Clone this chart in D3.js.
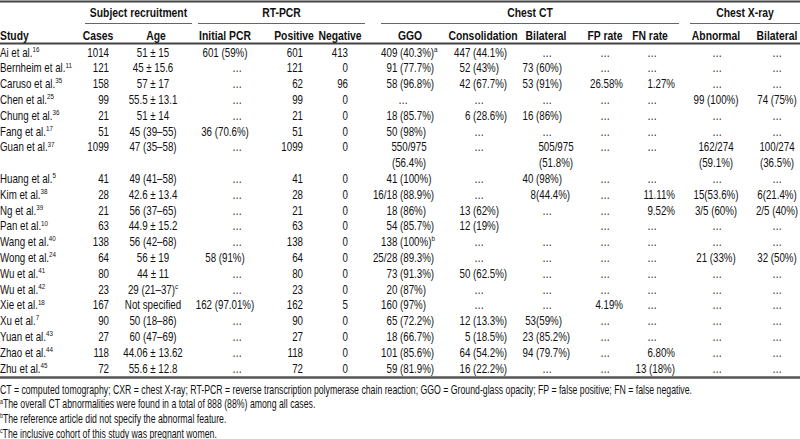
<!DOCTYPE html>
<html><head><meta charset="utf-8">
<script src="https://cdn.jsdelivr.net/npm/d3@7"></script>
<style>
html,body{margin:0;padding:0;background:#fff;}
svg text{font-family:"Liberation Sans","Arimo",Arial,sans-serif;fill:#111;font-size:12.5px;}
</style></head><body><svg id="c" width="800" height="439"></svg>
<script>
// ---------- data ----------
const studies = ["Ai et al.","Bernheim et al.","Caruso et al.","Chen et al.","Chung et al.","Fang et al.","Guan et al.","Huang et al.","Kim et al.","Ng et al.","Pan et al.","Wang et al.","Wong et al.","Wu et al.","Wu et al.","Xie et al.","Xu et al.","Yuan et al.","Zhao et al.","Zhu et al."];
const refs = ["16","11","35","25","36","17","37","5","38","39","10","40","24","41","42","18","7","43","44","45"];
const cases = [1014,121,158,99,21,51,1099,41,28,21,63,138,64,80,23,167,90,27,118,72];
const ages = ["51 ± 15","45 ± 15.6","57 ± 17","55.5 ± 13.1","51 ± 14","45 (39–55)","47 (35–58)","49 (41–58)","42.6 ± 13.4","56 (37–65)","44.9 ± 15.2","56 (42–68)","56 ± 19","44 ± 11","29 (21–37)","Not specified","50 (18–86)","60 (47–69)","44.06 ± 13.62","55.6 ± 12.8"];
const ageNotes = ["","","","","","","","","","","","","","","c","","","","",""];
const initialPCR = ["601 (59%)","…","…","…","…","36 (70.6%)","…","…","…","…","…","…","58 (91%)","…","…","162 (97.01%)","…","…","…","…"];
const positive = [601,121,62,99,21,51,1099,41,28,21,63,138,64,80,23,162,90,27,118,72];
const negative = [413,0,96,0,0,0,0,0,0,0,0,0,0,0,0,5,0,0,0,0];
const ggo = ["409 (40.3%)","91 (77.7%)","58 (96.8%)","…","18 (85.7%)","50 (98%)","550/975\n(56.4%)","41 (100%)","16/18 (88.9%)","18 (86%)","54 (85.7%)","138 (100%)","25/28 (89.3%)","73 (91.3%)","20 (87%)","160 (97%)","65 (72.2%)","18 (66.7%)","101 (85.6%)","59 (81.9%)"];
const ggoNotes = ["a","","","","","","","","","","","b","","","","","","","",""];
const consolidation = ["447 (44.1%)","52 (43%)","42 (67.7%)","…","6 (28.6%)","…","…","…","…","13 (62%)","12 (19%)","…","…","50 (62.5%)","…","…","12 (13.3%)","5 (18.5%)","64 (54.2%)","16 (22.2%)"];
const bilateralCT = ["…","73 (60%)","53 (91%)","…","16 (86%)","…","505/975\n(51.8%)","40 (98%)","8(44.4%)","…","","…","…","…","…","…","53(59%)","23 (85.2%)","94 (79.7%)","…"];
const fpRate = ["…","…","26.58%","…","…","…","…","…","…","…","…","…","…","…","…","4.19%","…","…","…","…"];
const fnRate = ["…","…","1.27%","…","…","…","…","…","11.11%","9.52%","…","…","…","…","…","…","…","…","6.80%","13 (18%)"];
const abnormalCXR = ["…","…","…","99 (100%)","…","…","162/274\n(59.1%)","…","15(53.6%)","3/5 (60%)","…","…","21 (33%)","…","…","…","…","…","…","…"];
const bilateralCXR = ["…","…","…","74 (75%)","…","…","100/274\n(36.5%)","…","6(21.4%)","2/5 (40%)","…","…","32 (50%)","…","…","…","…","…","…","…"];
const groupHeaders = ["Subject recruitment","RT-PCR","Chest CT","Chest X-ray"];
const columnHeaders = ["Study","Cases","Age","Initial PCR","Positive","Negative","GGO","Consolidation","Bilateral","FP rate","FN rate","Abnormal","Bilateral"];
const footnotes = [
  ["","CT = computed tomography; CXR = chest X-ray; RT-PCR = reverse transcription polymerase chain reaction; GGO = Ground-glass opacity; FP = false positive; FN = false negative."],
  ["a","The overall CT abnormalities were found in a total of 888 (88%) among all cases."],
  ["b","The reference article did not specify the abnormal feature."],
  ["c","The inclusive cohort of this study was pregnant women."]
];

// ---------- layout (not data) ----------
const SX = 0.78;      // body condensed factor
const HSX = 0.83;     // header condensed factor
const colLayout = {
  "Study":        {x:0,   mode:"start", hx:0,   ha:"start"},
  "Cases":        {x:109, mode:"end",   hx:98,  ha:"middle"},
  "Age":          {x:153, mode:"middle",hx:156, ha:"middle"},
  "Initial PCR":  {x:225, mode:"middle",ex:237, hx:225, ha:"middle"},
  "Positive":     {x:303, mode:"end",   hx:294, ha:"middle"},
  "Negative":     {x:348, mode:"end",   hx:340, ha:"middle"},
  "GGO":          {x:400, mode:"paren", ex:403, mx:409, hx:410, ha:"middle"},
  "Consolidation":{x:473, mode:"paren", ex:479, mx:479, hx:483, ha:"middle"},
  "BilateralCT":  {x:536, mode:"paren", ex:547, mx:556, hx:546, ha:"middle"},
  "FP rate":      {x:623, mode:"end",   ex:605, hx:605, ha:"middle"},
  "FN rate":      {x:675, mode:"end",   ex:652, hx:650, ha:"middle"},
  "Abnormal":     {x:716, mode:"middle",ex:717, hx:716, ha:"middle"},
  "BilateralCXR": {x:777, mode:"middle",ex:777, hx:777, ha:"middle"}
};
const groupSpans = [[85,192],[198,365],[381,679],[690,800]];

const svg = d3.select("#c");
const W = 800;

function T(parent,x,y,anchor,sx){
  return parent.append("text")
    .attr("transform",`translate(${x},${y}) scale(${sx||SX},1)`)
    .attr("text-anchor",anchor||"start");
}

// rows -> lines
const nLinesPerRow = studies.map((s,i)=>{
  const cells=[ggo[i],bilateralCT[i],abnormalCXR[i],bilateralCXR[i]];
  return d3.max(cells,c=>String(c).split("\n").length);
});
const lineStart = [];
nLinesPerRow.reduce((acc,n,i)=>{lineStart[i]=acc;return acc+n;},0);
const totalLines = d3.sum(nLinesPerRow);
const yLine = d3.scaleLinear().domain([0,totalLines-1]).range([52,368]);
const pitch = yLine(1)-yLine(0);
const BASE = 4.5;

// rules
const rule=(y,w,c)=>svg.append("line").attr("x1",0).attr("x2",W).attr("y1",y).attr("y2",y).attr("stroke",c).attr("stroke-width",w);
rule(1.5,2,"#444");
rule(43.5,1.8,"#444");
rule(377.5,2.4,"#555");

// group headers
const gh = svg.append("g");
groupHeaders.forEach((t,i)=>{
  const [a,b]=groupSpans[i];
  T(gh,(a+b)/2,12+BASE,"middle",HSX).attr("font-weight","bold").text(t);
  gh.append("line").attr("x1",a).attr("x2",b).attr("y1",23.5).attr("y2",23.5).attr("stroke","#666").attr("stroke-width",1.1);
});

// column headers
const colKeys = ["Study","Cases","Age","Initial PCR","Positive","Negative","GGO","Consolidation","BilateralCT","FP rate","FN rate","Abnormal","BilateralCXR"];
columnHeaders.forEach((t,i)=>{
  const L=colLayout[colKeys[i]];
  T(svg,L.hx,35.5+BASE,L.ha,HSX).attr("font-weight","bold").text(t);
});

const body = svg.append("g");
function addSup(txt,sup){ if(sup){ txt.append("tspan").attr("dy",-4.8).attr("font-size","8px").text(sup);} }

function drawCell(key,val,row,sup){
  const L = colLayout[key];
  const s = String(val);
  if(s==="") return;
  const y0 = yLine(lineStart[row])+BASE;
  if(s==="…"){
    T(body,L.ex!==undefined?L.ex:L.x,y0,"middle").attr("fill","#555").text("…");
    return;
  }
  const parts = s.split("\n");
  if(parts.length>1){
    parts.forEach((p,k)=>{
      T(body,L.mx!==undefined?L.mx:L.x,y0+k*pitch,"middle").text(p);
    });
    return;
  }
  if(L.mode==="paren"){
    const idx = s.indexOf("(");
    const left = s.slice(0,idx), right = s.slice(idx);
    const gap = left.endsWith(" ")?2.7:0;
    T(body,L.x-gap,y0,"end").text(left.trim());
    const t = T(body,L.x,y0,"start");
    t.append("tspan").text(right);
    addSup(t,sup);
    return;
  }
  const t = T(body,L.x,y0,L.mode);
  t.append("tspan").text(s);
  addSup(t,sup);
}

studies.forEach((s,i)=>{
  drawCell("Study",s,i,refs[i]);
  drawCell("Cases",cases[i],i);
  drawCell("Age",ages[i],i,ageNotes[i]);
  drawCell("Initial PCR",initialPCR[i],i);
  drawCell("Positive",positive[i],i);
  drawCell("Negative",negative[i],i);
  drawCell("GGO",ggo[i],i,ggoNotes[i]);
  drawCell("Consolidation",consolidation[i],i);
  drawCell("BilateralCT",bilateralCT[i],i);
  drawCell("FP rate",fpRate[i],i);
  drawCell("FN rate",fnRate[i],i);
  drawCell("Abnormal",abnormalCXR[i],i);
  drawCell("BilateralCXR",bilateralCXR[i],i);
});

// footnotes: fit first line to its width in the reference
const fy = d3.scaleLinear().domain([0,3]).range([389,433]);
const FOOT_W = 693;
const fg = svg.append("g");
const fnodes = footnotes.map(([sup,txt],i)=>{
  const t = T(fg,0,fy(i)+BASE,"start",1).attr("font-size","12px");
  if(sup){ t.append("tspan").attr("font-size","7.5px").attr("dy",-4.5).text(sup); t.append("tspan").attr("dy",4.5).text(txt);} 
  else t.text(txt);
  return t;
});
const natural = fnodes[0].node().getComputedTextLength();
const fsx = FOOT_W/natural;
fnodes.forEach((t,i)=>t.attr("transform",`translate(0,${fy(i)+BASE}) scale(${fsx},1)`));
</script></body></html>
